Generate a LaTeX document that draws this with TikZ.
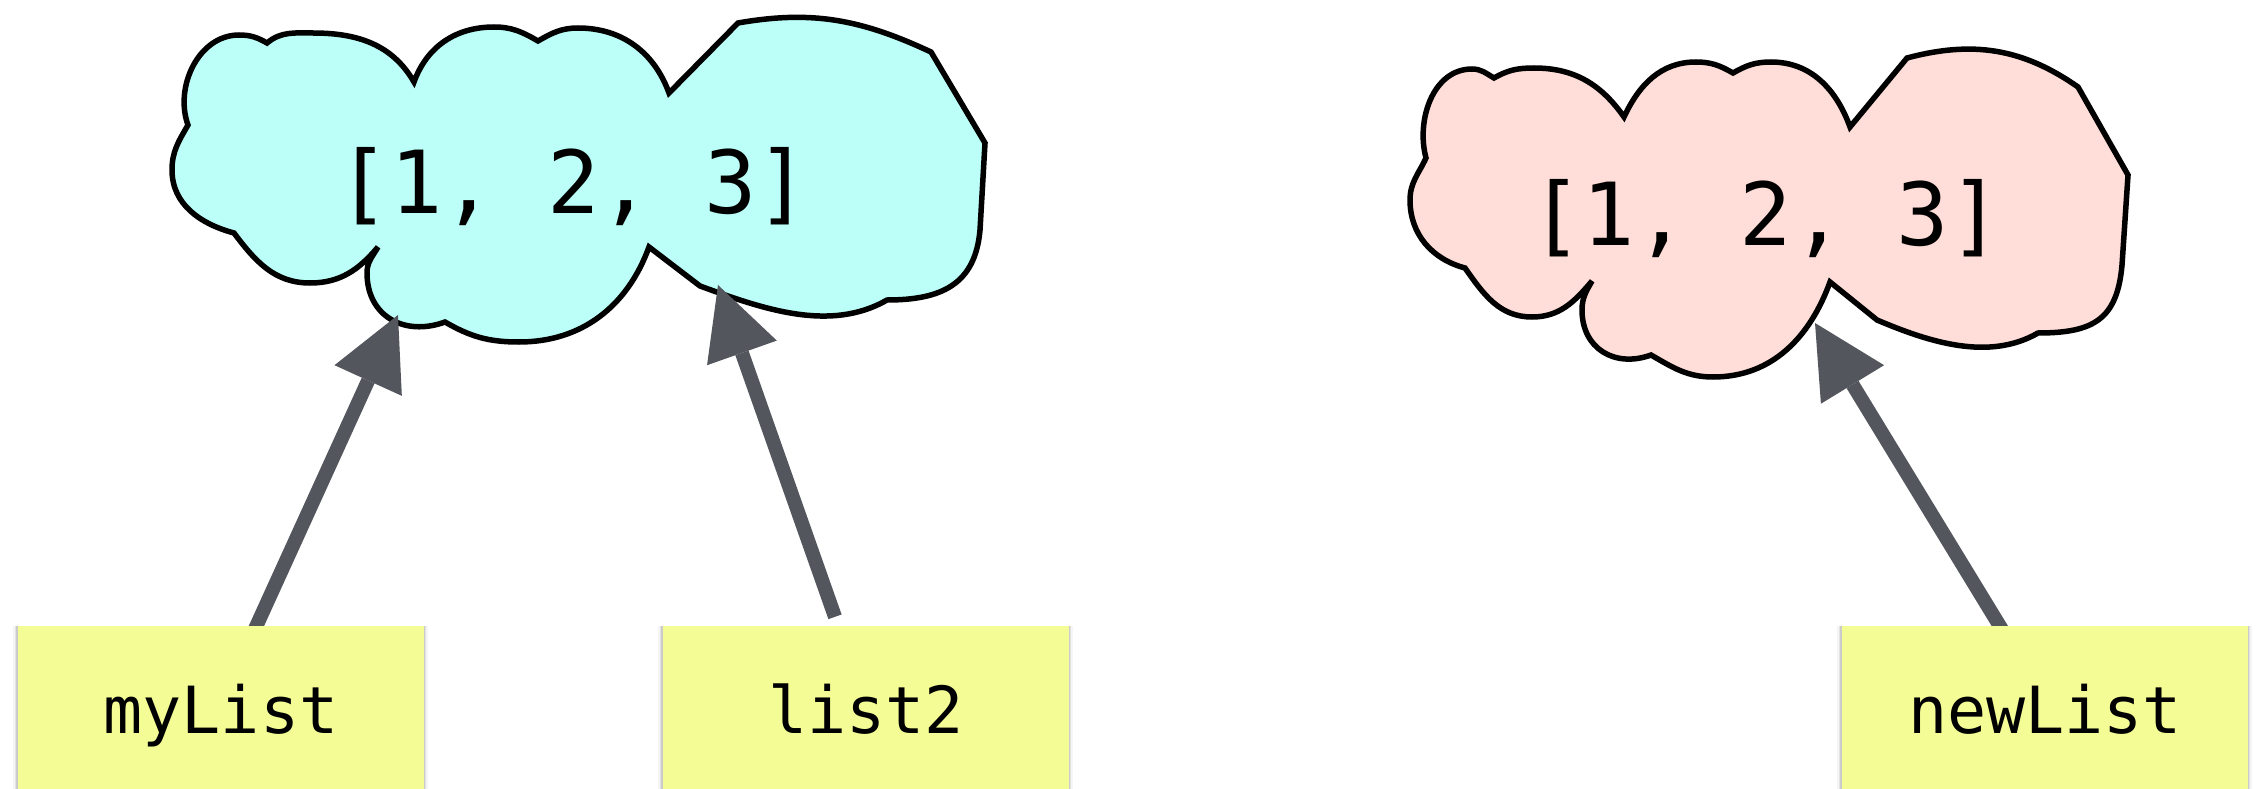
\documentclass[tikz,border=0pt]{standalone}
\usepackage{fontspec}
\usetikzlibrary{arrows.meta}
\newfontfamily\codefont{DejaVu Sans Mono}
\newcommand\listvalfont{\codefont\fontsize{87}{90}\selectfont}
\newcommand\varnamefont{\codefont\fontsize{65}{70}\selectfont}
\definecolor{cloudcyan}{HTML}{BBFFF8}
\definecolor{cloudpink}{HTML}{FFDDD8}
\definecolor{noteyellow}{HTML}{F4FC96}
\definecolor{pointergray}{HTML}{53575D}
\pgfdeclarelayer{behind}
\pgfsetlayers{behind,main}
\tikzset{
  cloudshape/.style={draw=black, line width=5.5pt, line join=miter},
  listvalue/.style={inner sep=0pt, font=\listvalfont, anchor=base},
  varnote/.style={rectangle, fill=noteyellow, inner sep=0pt, anchor=base,
    minimum width=406pt, minimum height=180.8pt,
    text height=48.6pt, text depth=15.4pt, font=\varnamefont},
  pointer/.style={draw=pointergray, line width=14pt,
    -{Triangle[length=72pt, width=74pt, line width=0pt]}}
}
\begin{document}
\begin{tikzpicture}[x=1pt, y=-1pt]
\useasboundingbox (0,0) rectangle (2258,789);

\begin{pgfonlayer}{behind}
\fill[white] (0,0) rectangle (2258,789);

% the list object shared by myList and list2
\filldraw[cloudshape, fill=cloudcyan] (188,125)
  to[out=110, in=180] (239,35)
  to[out=0, in=150] (267,43)
  to[out=40, in=180] (313,33)
  to[out=0, in=120] (414,82)
  to[out=70, in=180] (494,27)
  to[out=0, in=150] (538,41)
  to[out=30, in=180] (578,28)
  to[out=0, in=110] (669,93)
  -- (738,23)
  to[out=10, in=155] (931,52)
  -- (985,143) -- (980,230)
  to[out=265, in=0, looseness=1.2] (887,300)
  to[out=210, in=340, looseness=0.9] (700,286)
  -- (649,247)
  to[out=250, in=0] (519,342)
  to[out=180, in=330] (445,322)
  to[out=200, in=270, looseness=1.2] (367,273)
  to[out=90, in=240] (378,247)
  to[out=230, in=0] (310,283)
  to[out=180, in=307] (234,233)
  to[out=165, in=270] (172,170)
  to[out=90, in=240] (188,125)
  -- cycle;

% the separate copy referenced by newList
\filldraw[cloudshape, fill=cloudpink] (1426,158)
  to[out=105, in=180] (1472,69)
  to[out=0, in=150] (1494,78)
  to[out=30, in=180] (1534,68)
  to[out=0, in=125] (1624,117)
  to[out=65, in=180] (1696,62)
  to[out=0, in=150] (1733,73)
  to[out=30, in=180] (1771,62)
  to[out=0, in=110] (1850,127)
  -- (1907,58)
  to[out=15, in=145] (2078,87)
  -- (2128,175) -- (2122,265)
  to[out=265, in=0, looseness=1.3] (2038,333)
  to[out=210, in=337, looseness=0.9] (1877,320)
  -- (1830,282)
  to[out=250, in=0] (1713,377)
  to[out=180, in=330] (1651,355)
  to[out=200, in=270, looseness=1.2] (1582,310)
  to[out=90, in=240] (1592,281)
  to[out=230, in=0] (1532,317)
  to[out=180, in=305] (1465,268)
  to[out=165, in=270] (1410,200)
  to[out=90, in=245] (1426,158)
  -- cycle;
\end{pgfonlayer}

\node[listvalue] (valA) at (573.5,213) {[1, 2, 3]};
\node[listvalue] (valB) at (1766,245) {[1, 2, 3]};

% variable notes
\node[varnote] (myList) at (221,733) {myList};
\node[varnote] (list2) at (866,733) {list2};
\node[varnote] (newList) at (2045,733) {newList};

% where the pointers touch the objects
\coordinate (tipA) at (398,315);
\coordinate (tipB) at (718,285);
\coordinate (tipC) at (1815,323);

\begin{pgfonlayer}{behind}
% pointers, passing under the notes
\draw[pointer] ([xshift=30pt, yshift=-12pt]myList.north) -- (tipA);
\draw[pointer] ([xshift=-31pt, yshift=9pt]list2.north) -- (tipB);
\draw[pointer] ([xshift=-38pt, yshift=-12pt]newList.north) -- (tipC);
% soft side shadows of the notes
\foreach \n in {myList, list2, newList} {
  \fill[black, opacity=0.04] ([xshift=-5pt]\n.north west) rectangle ([xshift=4pt]\n.south east);
  \fill[black, opacity=0.07] ([xshift=-3pt]\n.north west) rectangle ([xshift=2pt]\n.south east);
  \fill[black, opacity=0.10] ([xshift=-1.5pt]\n.north west) rectangle ([xshift=1pt]\n.south east);
}
\end{pgfonlayer}
\end{tikzpicture}
\end{document}
